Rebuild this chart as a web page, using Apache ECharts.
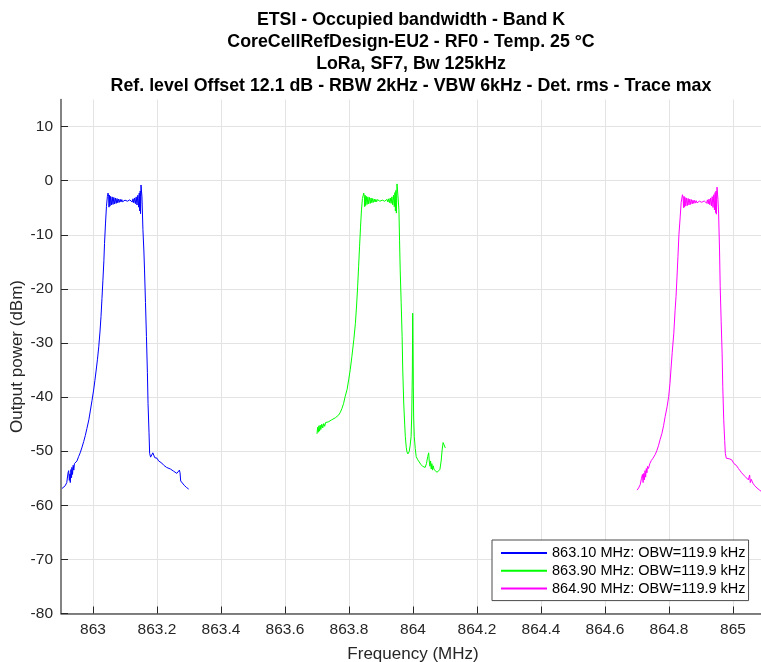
<!DOCTYPE html>
<html>
<head>
<meta charset="utf-8">
<title>ETSI - Occupied bandwidth - Band K</title>
<script src="https://cdn.jsdelivr.net/npm/echarts@6/dist/echarts.min.js"></script>
<style>
	html, body { margin: 0; padding: 0; background: #fff; }
	#chart { width: 761px; height: 662px; }
</style>
</head>
<body>
<div id="chart"></div>
<script>
	/** **************** data ****************/
	var seriesNames = ['863.10 MHz: OBW=119.9 kHz', '863.90 MHz: OBW=119.9 kHz', '864.90 MHz: OBW=119.9 kHz'];
	var xTicks = [863, 863.2, 863.4, 863.6, 863.8, 864, 864.2, 864.4, 864.6, 864.8, 865];
	var yTicks = [-80, -70, -60, -50, -40, -30, -20, -10, 0, 10];

	// trace 863.10 MHz  [frequency MHz, power dBm]
	var trace1 = [
		[862.903, -56.9], [862.913, -56.4], [862.918, -55.8], [862.922, -54.0], [862.924, -53.6],
		[862.926, -55.4], [862.928, -54.2], [862.929, -55.8], [862.931, -53.4], [862.933, -54.9],
		[862.934, -53.0], [862.936, -54.3], [862.938, -52.6], [862.940, -53.5], [862.942, -52.3],
		[862.945, -52.6], [862.950, -51.8], [862.955, -51.0], [862.960, -50.3], [862.965, -49.4],
		[862.971, -48.2], [862.976, -47.1], [862.981, -45.8], [862.987, -44.2], [862.992, -42.4],
		[862.997, -40.6], [863.002, -38.7], [863.006, -36.9], [863.010, -35.0], [863.014, -33.0],
		[863.018, -30.7], [863.022, -27.8], [863.025, -25.1], [863.028, -21.8], [863.031, -18.4],
		[863.034, -14.8], [863.036, -11.6], [863.039, -8.0], [863.042, -4.8], [863.045, -2.9],
		[863.047, -2.3], [863.049, -3.0], [863.050, -4.9], [863.0515, -2.7], [863.053, -4.7],
		[863.055, -2.9], [863.0575, -4.5], [863.060, -3.0], [863.0625, -4.4], [863.065, -3.1],
		[863.0675, -4.3], [863.070, -3.2], [863.0725, -4.2], [863.075, -3.3], [863.0775, -4.1],
		[863.080, -3.4], [863.0825, -4.0], [863.085, -3.45], [863.0875, -3.95], [863.090, -3.5],
		[863.0925, -3.9], [863.095, -3.55], [863.0975, -3.85], [863.100, -3.6], [863.1025, -3.8],
		[863.105, -3.6], [863.1075, -3.8], [863.110, -3.6], [863.1125, -3.8], [863.115, -3.55],
		[863.1175, -3.85], [863.120, -3.45], [863.1225, -3.95], [863.125, -3.35], [863.1275, -4.1],
		[863.130, -3.2], [863.1325, -4.25], [863.135, -3.0], [863.1375, -4.5], [863.140, -2.7],
		[863.1425, -4.9], [863.1445, -2.3], [863.146, -5.6], [863.1475, -1.9], [863.1485, -6.1],
		[863.150, -0.8], [863.153, -3.0], [863.156, -9.0], [863.159, -13.0], [863.161, -16.5],
		[863.164, -22.5], [863.167, -28.8], [863.170, -35.5], [863.172, -41.2], [863.175, -46.5],
		[863.177, -50.4], [863.180, -51.1], [863.182, -50.9], [863.185, -50.8], [863.187, -50.3],
		[863.190, -50.5], [863.193, -51.2], [863.196, -51.0], [863.200, -51.3], [863.205, -51.8],
		[863.210, -52.0], [863.215, -52.2], [863.221, -52.6], [863.230, -53.0], [863.242, -53.3],
		[863.252, -53.7], [863.262, -54.1], [863.267, -54.4], [863.270, -53.5], [863.272, -54.0],
		[863.274, -55.5], [863.278, -55.8], [863.285, -56.3], [863.292, -56.7], [863.299, -57.0]
	];

	// trace 863.90 MHz
	var trace2 = [
		[863.700, -46.8], [863.702, -45.6], [863.704, -46.5], [863.706, -45.3], [863.708, -46.3],
		[863.710, -45.2], [863.712, -46.0], [863.715, -45.0], [863.718, -45.7], [863.721, -44.9],
		[863.724, -45.4], [863.727, -44.7], [863.731, -45.0], [863.735, -44.6], [863.740, -44.4],
		[863.746, -44.2], [863.752, -44.0], [863.758, -43.8], [863.763, -43.6], [863.768, -43.3],
		[863.773, -42.8], [863.778, -42.1], [863.783, -41.2], [863.788, -39.9], [863.794, -38.6],
		[863.799, -36.8], [863.804, -34.9], [863.809, -32.5], [863.815, -29.4], [863.820, -26.4],
		[863.824, -22.8], [863.827, -19.6], [863.830, -15.9], [863.833, -12.2], [863.836, -8.6],
		[863.839, -5.4], [863.842, -3.3], [863.846, -2.3], [863.848, -3.0], [863.849, -4.8],
		[863.8505, -2.7], [863.852, -4.6], [863.854, -2.9], [863.8565, -4.4], [863.859, -3.0],
		[863.8615, -4.3], [863.864, -3.1], [863.8665, -4.2], [863.869, -3.2], [863.8715, -4.1],
		[863.874, -3.3], [863.8765, -4.0], [863.879, -3.4], [863.8815, -3.95], [863.884, -3.45],
		[863.8865, -3.9], [863.889, -3.5], [863.8915, -3.85], [863.894, -3.55], [863.8965, -3.8],
		[863.899, -3.6], [863.9015, -3.8], [863.904, -3.6], [863.9065, -3.8], [863.909, -3.6],
		[863.9115, -3.8], [863.914, -3.55], [863.9165, -3.85], [863.919, -3.45], [863.9215, -3.95],
		[863.924, -3.35], [863.9265, -4.05], [863.929, -3.2], [863.9315, -4.2], [863.934, -3.0],
		[863.9365, -4.45], [863.939, -2.7], [863.9415, -4.8], [863.9435, -2.2], [863.945, -5.6],
		[863.9465, -1.8], [863.948, -6.0], [863.950, -0.6], [863.953, -2.8], [863.956, -5.4],
		[863.958, -11.0], [863.960, -16.5], [863.963, -22.5], [863.966, -28.8], [863.968, -35.0],
		[863.971, -41.1], [863.974, -45.0], [863.976, -47.3], [863.979, -49.3], [863.981, -50.1],
		[863.984, -50.5], [863.988, -50.1], [863.991, -49.0], [863.994, -47.3], [863.996, -43.5],
		[863.998, -35.0], [863.999, -24.5], [864.000, -30.0], [864.001, -38.0], [864.002, -43.5],
		[864.004, -47.3], [864.007, -49.5], [864.010, -51.0], [864.015, -51.6], [864.018, -51.9],
		[864.024, -52.4], [864.030, -52.8], [864.034, -53.0], [864.038, -53.0], [864.042, -52.3],
		[864.046, -51.0], [864.049, -50.3], [864.051, -52.0], [864.053, -52.8], [864.055, -51.8],
		[864.057, -53.3], [864.059, -52.3], [864.061, -53.5], [864.063, -52.7], [864.066, -53.4],
		[864.070, -53.7], [864.075, -53.9], [864.080, -54.1], [864.084, -53.4], [864.088, -51.8],
		[864.091, -49.8], [864.094, -48.4], [864.096, -48.2], [864.098, -48.7], [864.101, -49.4]
	];

	// trace 864.90 MHz
	var trace3 = [
		[864.700, -57.2], [864.705, -56.8], [864.710, -56.2], [864.714, -55.0], [864.717, -54.3],
		[864.719, -55.8], [864.721, -54.1], [864.723, -55.3], [864.725, -53.6], [864.727, -54.8],
		[864.729, -53.2], [864.731, -54.0], [864.733, -52.8], [864.736, -53.2], [864.740, -52.3],
		[864.745, -51.7], [864.750, -51.3], [864.757, -50.6], [864.762, -49.9], [864.767, -49.0],
		[864.772, -47.9], [864.778, -46.7], [864.783, -45.3], [864.788, -43.6], [864.794, -41.8],
		[864.799, -39.9], [864.803, -37.5], [864.806, -35.0], [864.810, -31.8], [864.815, -28.2],
		[864.819, -24.0], [864.822, -21.4], [864.825, -17.8], [864.828, -14.0], [864.831, -10.0],
		[864.835, -6.7], [864.838, -4.0], [864.842, -2.6], [864.844, -3.2], [864.8455, -5.0],
		[864.847, -2.9], [864.8485, -4.9], [864.850, -3.1], [864.8525, -4.7], [864.855, -3.2],
		[864.8575, -4.6], [864.860, -3.3], [864.8625, -4.5], [864.865, -3.4], [864.8675, -4.4],
		[864.870, -3.5], [864.8725, -4.3], [864.875, -3.6], [864.8775, -4.2], [864.880, -3.65],
		[864.8825, -4.15], [864.885, -3.7], [864.8875, -4.1], [864.890, -3.75], [864.8925, -4.05],
		[864.895, -3.8], [864.8975, -4.0], [864.900, -3.8], [864.9025, -4.0], [864.905, -3.8],
		[864.9075, -4.0], [864.910, -3.75], [864.9125, -4.05], [864.915, -3.65], [864.9175, -4.15],
		[864.920, -3.55], [864.9225, -4.3], [864.925, -3.4], [864.9275, -4.45], [864.930, -3.2],
		[864.9325, -4.65], [864.935, -2.95], [864.9375, -4.95], [864.940, -2.6], [864.942, -5.4],
		[864.944, -2.2], [864.9455, -5.9], [864.947, -1.9], [864.948, -6.2], [864.950, -1.2],
		[864.953, -3.5], [864.955, -6.0], [864.958, -13.0], [864.960, -19.6], [864.963, -26.0],
		[864.966, -31.9], [864.968, -38.0], [864.971, -44.2], [864.974, -48.0], [864.976, -50.4],
		[864.979, -51.3], [864.981, -51.3], [864.985, -51.0], [864.988, -51.4], [864.992, -51.2],
		[864.996, -51.6], [865.000, -51.7], [865.003, -52.3], [865.006, -52.0], [865.010, -52.6],
		[865.014, -52.9], [865.017, -53.2], [865.022, -53.6], [865.027, -54.0], [865.033, -54.3],
		[865.038, -54.7], [865.043, -55.0], [865.048, -55.3], [865.052, -54.4], [865.054, -55.8],
		[865.057, -55.2], [865.062, -55.9], [865.068, -56.4], [865.075, -56.8], [865.083, -57.2],
		[865.090, -57.5]
	];

	var colors = ['#0000ff', '#00ff00', '#ff00ff'];
	var traces = [trace1, trace2, trace3];

	/** **************** chart ****************/
	var axisColor = '#262626';
	var font = 'Liberation Sans, Arial, Helvetica, sans-serif';

	var series = [];
	for (var i = 0; i < traces.length; i++) {
		series.push({
			name: seriesNames[i],
			type: 'line',
			data: traces[i],
			symbol: 'none',
			showSymbol: false,
			lineStyle: { width: 1, color: colors[i] },
			itemStyle: { color: colors[i] }
		});
	}

	var option = {
		animation: false,
		backgroundColor: '#fff',
		color: colors,
		title: {
			text: 'ETSI - Occupied bandwidth - Band K\nCoreCellRefDesign-EU2 - RF0 - Temp. 25 °C\nLoRa, SF7, Bw 125kHz\nRef. level Offset 12.1 dB - RBW 2kHz - VBW 6kHz - Det. rms - Trace max',
			left: 411, top: 9, padding: 0,
			textAlign: 'center',
			textStyle: {
				fontFamily: font, fontSize: 17.8, fontWeight: 'bold',
				color: '#000', lineHeight: 22
			}
		},
		legend: {
			orient: 'vertical',
			left: 492, top: 540,
			padding: [5.5, 3, 4.5, 9],
			icon: 'rect',
			itemWidth: 46, itemHeight: 2, itemGap: 2.8,
			backgroundColor: '#fff',
			borderColor: '#4a4a4a', borderWidth: 1,
			textStyle: { fontFamily: font, fontSize: 14.5, color: '#000' },
			data: seriesNames
		},
		grid: {
			left: 61, right: -4, top: 99.5, bottom: 48.5,
			containLabel: false,
			outerBoundsMode: 'none'
		},
		xAxis: {
			type: 'value',
			min: 862.9, max: 865.1,
			name: 'Frequency (MHz)',
			nameLocation: 'middle', nameGap: 32, nameMoveOverlap: false,
			nameTextStyle: { fontFamily: font, fontSize: 17, color: axisColor },
			axisLine: { onZero: false, lineStyle: { color: '#5a5a5a', width: 1.5 } },
			axisTick: { inside: true, length: 7, customValues: xTicks, lineStyle: { color: axisColor } },
			axisLabel: {
				customValues: xTicks, margin: 8,
				fontFamily: font, fontSize: 15.5, color: axisColor
			},
			splitLine: { show: true, lineStyle: { color: '#e3e3e3', width: 1 } }
		},
		yAxis: {
			type: 'value',
			min: -80, max: 15,
			name: 'Output power (dBm)',
			nameLocation: 'middle', nameGap: 35, nameMoveOverlap: false,
			nameTextStyle: { fontFamily: font, fontSize: 17, color: axisColor },
			axisLine: { show: true, onZero: false, lineStyle: { color: '#5a5a5a', width: 1.5 } },
			axisTick: { show: true, inside: true, length: 7, customValues: yTicks, lineStyle: { color: axisColor } },
			axisLabel: {
				customValues: yTicks, margin: 8,
				fontFamily: font, fontSize: 15.5, color: axisColor
			},
			splitLine: { show: true, lineStyle: { color: '#e3e3e3', width: 1 } }
		},
		series: series
	};

	var myChart = echarts.init(document.getElementById('chart'), null, { renderer: 'canvas' });
	myChart.setOption(option);
</script>
</body>
</html>
